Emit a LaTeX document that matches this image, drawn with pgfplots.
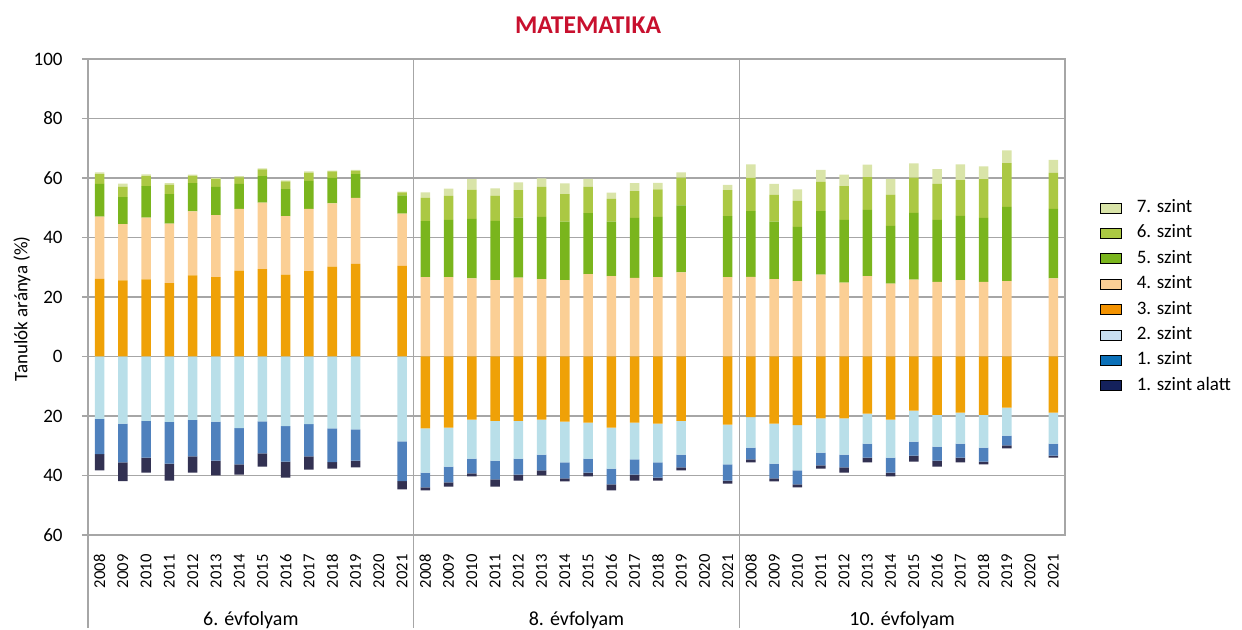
\documentclass[border=0pt]{standalone}
\usepackage{fontspec}
\setmainfont{Carlito}
\usepackage{pgfplots}
\usepackage{pgfplotstable}
\pgfplotsset{compat=1.18}

\definecolor{c7}{HTML}{D9E4A8}
\definecolor{c6}{HTML}{ABC843}
\definecolor{c5}{HTML}{7AB51D}
\definecolor{c4}{HTML}{FBCF95}
\definecolor{c3}{HTML}{EFA107}
\definecolor{c2}{HTML}{B9DFE9}
\definecolor{c1}{HTML}{4F81BD}
\definecolor{ca}{HTML}{323152}
\definecolor{l3}{HTML}{F39200}
\definecolor{l2}{HTML}{C8DFF1}
\definecolor{l1}{HTML}{0B70B8}
\definecolor{la}{HTML}{14215C}
\definecolor{titlered}{HTML}{C8102E}
\definecolor{gridgray}{HTML}{A6A6A6}

% columns: x s3 s4 s5 s6 s7 s2 s1 sa
\pgfplotstableread{
x  s3    s4    s5    s6   s7   s2     s1     sa
0  26.1  20.9  11.0  3.3  0.6  -21.0  -11.8  -5.5
1  25.6  18.9  9.1   3.5  1.0  -22.6  -13.0  -6.3
2  25.9  20.8  10.6  3.3  0.6  -21.6  -12.4  -5.0
3  24.7  20.0  9.9   3.2  0.5  -22.0  -14.0  -5.7
4  27.3  21.5  9.5   2.4  0.4  -21.3  -12.3  -5.4
5  26.7  20.8  9.5   2.7  0.3  -21.9  -13.1  -5.0
6  28.9  20.7  8.4   2.2  0.4  -24.1  -12.2  -3.4
7  29.4  22.3  8.9   2.3  0.3  -21.8  -10.8  -4.4
8  27.5  19.7  9.1   2.6  0.3  -23.4  -11.9  -5.4
9  28.7  20.9  9.4   2.8  0.4  -22.7  -10.9  -4.4
10 30.2  21.3  8.5   2.2  0.3  -24.2  -11.3  -2.2
11 31.1  22.2  8.0   1.2  0.2  -24.5  -10.5  -2.3
13 30.5  17.5  6.2   1.0  0.2  -28.5  -13.4  -2.8
14 -24.2 26.7  18.8  7.8  1.9  -14.8  -5.0   -1.0
15 -23.9 26.7  19.2  8.1  2.4  -13.1  -5.3   -1.4
16 -21.2 26.3  20.0  9.7  3.6  -13.1  -5.0   -1.0
17 -21.6 25.7  19.9  8.5  2.4  -13.4  -6.3   -2.4
18 -21.6 26.5  20.2  9.2  2.6  -12.7  -5.4   -2.0
19 -21.2 26.0  20.9  10.1 2.9  -11.8  -5.3   -1.7
20 -21.9 25.7  19.6  9.3  3.6  -13.7  -5.4   -1.0
21 -22.2 27.7  20.5  8.8  2.7  -12.1  -4.7   -1.3
22 -23.9 27.0  18.3  7.7  2.1  -13.8  -5.3   -2.0
23 -22.2 26.4  20.2  9.0  2.7  -12.4  -5.1   -2.0
24 -22.6 26.7  20.2  9.3  2.2  -13.0  -5.1   -1.0
25 -21.6 28.3  22.5  9.3  1.8  -11.4  -4.3   -1.0
27 -22.9 26.7  20.5  8.7  1.8  -13.4  -5.4   -1.0
28 -20.4 26.8  22.1  11.1 4.6  -10.2  -4.0   -1.0
29 -22.6 26.0  19.3  9.0  3.7  -13.4  -5.0   -1.0
30 -23.1 25.3  18.3  8.7  3.9  -15.2  -4.7   -1.0
31 -20.8 27.5  21.4  9.8  4.0  -11.5  -4.3   -1.1
32 -20.8 24.8  21.1  11.4 3.8  -12.2  -4.3   -1.7
33 -19.2 27.0  22.3  11.0 4.2  -10.1  -4.7   -1.6
34 -21.2 24.5  19.4  10.5 5.3  -12.8  -5.0   -1.3
35 -18.2 25.8  22.5  11.8 4.8  -10.4  -4.7   -2.0
36 -19.6 25.1  20.8  12.1 5.0  -10.7  -4.7   -2.0
37 -18.9 25.7  21.6  12.0 5.3  -10.4  -4.7   -1.6
38 -19.6 25.1  21.5  13.0 4.3  -11.0  -4.7   -1.0
39 -17.2 25.3  25.0  14.7 4.3  -9.4   -3.3   -1.0
41 -18.9 26.3  23.3  12.1 4.4  -10.4  -4.0   -0.7
}\data

\begin{document}
\begin{tikzpicture}
\path[use as bounding box] (-44pt,-47.5pt) rectangle (577pt,267.5pt);
\begin{axis}[
  scale only axis,
  width=488.5pt, height=238pt,
  at={(0,0)}, anchor=south west,
  clip=false,
  ybar stacked,
  stack negative=separate,
  bar width=4.75pt,
  xmin=-0.5, xmax=41.5,
  ymin=-60, ymax=100,
  ytick={-60,-40,-20,0,20,40,60,80,100},
  yticklabels={60,40,20,0,20,40,60,80,100},
  xtick={0,...,41},
  xticklabels={2008,2009,2010,2011,2012,2013,2014,2015,2016,2017,2018,2019,2020,2021,
               2008,2009,2010,2011,2012,2013,2014,2015,2016,2017,2018,2019,2020,2021,
               2008,2009,2010,2011,2012,2013,2014,2015,2016,2017,2018,2019,2020,2021},
  x tick style={draw=none},
  ytick pos=left,
  y tick style={gridgray, line width=0.6pt},
  tick align=outside,
  major tick length=3pt,
  xticklabel style={rotate=90, anchor=east, inner sep=0pt, font=\fontsize{8.3}{9}\selectfont},
  xticklabel shift=6.5pt,
  yticklabel style={inner sep=0pt, font=\fontsize{9.5}{11}\selectfont},
  yticklabel shift=9.5pt,
  ymajorgrids,
  grid style={gridgray, line width=0.6pt},
  axis line style={gridgray, line width=0.6pt},
  legend cell align=left,
  legend image code/.code={\fill[#1] (0pt,-2.5pt) rectangle (10.5pt,2.5pt);},
  legend style={draw=none, fill=none, at={(rel axis cs:1.0358,0.705)}, anchor=north west,
    inner sep=0pt, outer sep=0pt, row sep=4.2pt, column sep=0pt,
    font=\fontsize{9.5}{11}\selectfont,
    nodes={inner sep=0pt, text height=6.5pt, text depth=2pt},
    /tikz/every odd column/.append style={column sep=7.5pt}},
]
\addlegendimage{fill=c7}\addlegendentry{7. szint}
\addlegendimage{fill=c6}\addlegendentry{6. szint}
\addlegendimage{fill=c5}\addlegendentry{5. szint}
\addlegendimage{fill=c4}\addlegendentry{4. szint}
\addlegendimage{fill=l3}\addlegendentry{3. szint}
\addlegendimage{fill=l2}\addlegendentry{2. szint}
\addlegendimage{fill=l1}\addlegendentry{1. szint}
\addlegendimage{fill=la}\addlegendentry{1. szint alatt}

\addplot[fill=c3, draw=none, forget plot] table[x=x, y=s3] {\data};
\addplot[fill=c4, draw=none, forget plot] table[x=x, y=s4] {\data};
\addplot[fill=c5, draw=none, forget plot] table[x=x, y=s5] {\data};
\addplot[fill=c6, draw=none, forget plot] table[x=x, y=s6] {\data};
\addplot[fill=c7, draw=none, forget plot] table[x=x, y=s7] {\data};
\addplot[fill=c2, draw=none, forget plot] table[x=x, y=s2] {\data};
\addplot[fill=c1, draw=none, forget plot] table[x=x, y=s1] {\data};
\addplot[fill=ca, draw=none, forget plot] table[x=x, y=sa] {\data};

% group separators, extended below the axis
\draw[gridgray, line width=0.6pt] (axis cs:-0.5,-60) -- ++(0pt,-46.5pt);
\draw[gridgray, line width=0.6pt] (axis cs:13.5,100) -- (axis cs:13.5,-60) -- ++(0pt,-46.5pt);
\draw[gridgray, line width=0.6pt] (axis cs:27.5,100) -- (axis cs:27.5,-60) -- ++(0pt,-46.5pt);

\node[font=\fontsize{10}{12}\selectfont] at (axis cs:6.5,-60) [yshift=-42.5pt] {6. évfolyam};
\node[font=\fontsize{10}{12}\selectfont] at (axis cs:20.5,-60) [yshift=-42.5pt] {8. évfolyam};
\node[font=\fontsize{10}{12}\selectfont] at (axis cs:34.5,-60) [yshift=-42.5pt] {10. évfolyam};

\node[font=\bfseries\fontsize{12.8}{15}\selectfont, text=titlered] at (rel axis cs:0.5118,1.0714) {MATEMATIKA};
\node[rotate=90, font=\fontsize{9.5}{11}\selectfont] at (rel axis cs:-0.0676,0.475) {Tanulók aránya (\%)};
\end{axis}
\end{tikzpicture}
\end{document}
